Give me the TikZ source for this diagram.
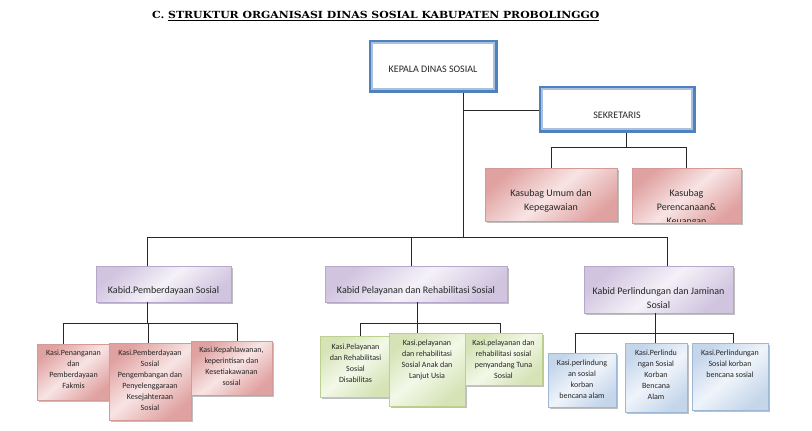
\documentclass[tikz,border=0pt]{standalone}
\usepackage{fontspec}
\setmainfont{Carlito}
\newfontfamily\titlefont{DejaVu Serif}
\usetikzlibrary{shadows,calc}
\definecolor{kblue}{HTML}{4F81BD}
\definecolor{kblueL}{HTML}{A9C0DE}
\definecolor{pinkL}{HTML}{F8E4E4}
\definecolor{pinkD}{HTML}{E0A2A1}
\definecolor{pinkB}{HTML}{D39A98}
\definecolor{purL}{HTML}{F4F1F8}
\definecolor{purD}{HTML}{D0C4DF}
\definecolor{purB}{HTML}{B7A8CB}
\definecolor{grnL}{HTML}{F3F8E8}
\definecolor{grnD}{HTML}{D5E3B6}
\definecolor{grnB}{HTML}{BCD090}
\definecolor{bluL}{HTML}{EFF4FA}
\definecolor{bluD}{HTML}{C5D6EB}
\definecolor{bluB}{HTML}{9EB7D7}
\begin{document}
\begin{tikzpicture}[x=1pt,y=-1pt,
  conn/.style={draw=black!85, line width=0.8pt},
  sbox/.style={rectangle, inner sep=0pt, line width=0.6pt,
    drop shadow={shadow xshift=1.8pt, shadow yshift=-1.8pt, fill=black!45, opacity=0.55}},
  pinkbox/.style={sbox, draw=pinkB, top color=pinkD, bottom color=pinkD, middle color=pinkL, shading angle=40},
  purbox/.style={sbox, draw=purB, top color=purD, bottom color=purD, middle color=purL, shading angle=40},
  grnbox/.style={sbox, draw=grnB, top color=grnD, bottom color=grnD, middle color=grnL, shading angle=40},
  blubox/.style={sbox, draw=bluB, top color=bluD, bottom color=bluD, middle color=bluL, shading angle=40},
  kbox/.style={rectangle, inner sep=0pt, draw=kblue, line width=3pt, fill=white},
  tten/.style={font=\fontsize{10}{14}\selectfont, align=center, inner sep=0pt, anchor=north, text=black!85},
  teight/.style={font=\fontsize{8}{11}\selectfont, align=center, inner sep=0pt, anchor=north, text=black!85}
]
\useasboundingbox[fill=white] (0,0) rectangle (812,431);

% title
\node[anchor=base west, inner sep=0pt, font=\titlefont\bfseries\fontsize{9.8}{12}\selectfont] (title) at (152,18.5)
  {\scalebox{1.11}[1]{C.\ \underline{STRUKTUR ORGANISASI DINAS SOSIAL KABUPATEN PROBOLINGGO}}};

% top boxes
\node[kbox, minimum width=126pt, minimum height=50pt] (kepala) at (433,66) {};
\draw[kblueL, line width=1.8pt] ([shift={(3.8,3.8)}]kepala.north west) rectangle ([shift={(-3.8,-3.8)}]kepala.south east);
\node[tten] (kepalat) at (433,62.2) {\strut KEPALA DINAS SOSIAL};

\node[kbox, minimum width=154pt, minimum height=44pt] (sekretaris) at (617,109) {};
\draw[kblueL, line width=1.8pt] ([shift={(3.8,3.8)}]sekretaris.north west) rectangle ([shift={(-3.8,-3.8)}]sekretaris.south east);
\node[tten] (sekretarist) at (617,108.2) {\strut SEKRETARIS};

% coordinates
\coordinate (tr0) at (463,237);
\coordinate (sj) at (463,110);
\coordinate (sb) at (626,147);
\coordinate (d1) at (147,237);
\coordinate (d2) at (411,237);
\coordinate (d3) at (667,237);
\coordinate (g1) at (147,323);
\coordinate (g1a) at (63,323);
\coordinate (g1b) at (148,323);
\coordinate (g1c) at (237,323);
\coordinate (h1) at (417,323);
\coordinate (h1a) at (360,323);
\coordinate (h1c) at (500,323);
\coordinate (k1) at (655,333);
\coordinate (k1a) at (575,333);
\coordinate (k1c) at (733,333);

% second tier boxes
\node[pinkbox, minimum width=132pt, minimum height=53pt] (kasubag1) at (551,194.5) {};
\node[tten] (kasubag1t) at (551,186.7) {\strut Kasubag Umum dan\\Kepegawaian};
\node[pinkbox, minimum width=109pt, minimum height=55pt] (kasubag2) at (686.5,195.5) {};
\begin{scope}
\clip (kasubag2.north west) rectangle ([shift={(0,-1.8)}]kasubag2.south east);
\node[tten] (kasubag2t) at (686.5,186.7) {\strut Kasubag\\Perencanaan\&\\Keuangan};
\end{scope}

\node[purbox, minimum width=135pt, minimum height=36pt] (kabid1) at (163.5,284) {};
\node[tten] (kabid1t) at (163.5,283.2) {\strut Kabid.Pemberdayaan Sosial};
\node[purbox, minimum width=182pt, minimum height=36pt] (kabid2) at (416,284) {};
\node[tten] (kabid2t) at (416,283.2) {\strut Kabid Pelayanan dan Rehabilitasi Sosial};
\node[purbox, minimum width=149pt, minimum height=47pt] (kabid3) at (658.5,289.5) {};
\node[tten] (kabid3t) at (658.5,284.2) {\strut Kabid Perlindungan dan Jaminan\\Sosial};

% connectors (upper)
\draw[conn] (kepala.south -| tr0) -- (tr0);
\draw[conn] (sj) -- (sekretaris.west |- sj);
\draw[conn] (sekretaris.south -| sb) -- (sb);
\draw[conn] (kasubag1.north) |- (kasubag2.north |- sb) -- (kasubag2.north);
\draw[conn] (d1 |- kabid1.north) -- (d1) -- (d3) -- (d3 |- kabid3.north);
\draw[conn] (d2) -- (d2 |- kabid2.north);

% group boxes
\node[pinkbox, minimum width=73pt, minimum height=56pt] (p1) at (73.5,372) {};
\node[teight] (p1t) at (73.5,347.6) {\strut Kasi.Penanganan\\dan\\Pemberdayaan\\Fakmis};
\node[pinkbox, minimum width=82pt, minimum height=77pt] (p2) at (150,381.5) {};
\node[teight] (p2t) at (150,347.6) {\strut Kasi.Pemberdayaan\\Sosial\\Pengembangan dan\\Penyelenggaraan\\Kesejahteraan\\Sosial};
\node[pinkbox, minimum width=81pt, minimum height=54pt] (p3) at (231.5,368) {};
\node[teight] (p3t) at (231.5,344.6) {\strut Kasi.Kepahlawanan,\\keperintisan dan\\Kesetiakawanan\\sosial};

\node[grnbox, minimum width=71pt, minimum height=61pt] (q1) at (355.5,366.5) {};
\node[teight] (q1t) at (355.5,341.6) {\strut Kasi.Pelayanan\\dan Rehabilitasi\\Sosial\\Disabilitas};
\node[grnbox, minimum width=76pt, minimum height=73pt] (q2) at (427,369.5) {};
\node[teight] (q2t) at (427,337.6) {\strut Kasi.pelayanan\\dan rehabilitasi\\Sosial Anak dan\\Lanjut Usia};
\node[grnbox, minimum width=77pt, minimum height=52pt] (q3) at (503.5,359) {};
\node[teight] (q3t) at (503.5,337.6) {\strut Kasi.pelayanan dan\\rehabilitasi sosial\\penyandang Tuna\\Sosial};

\node[blubox, minimum width=68pt, minimum height=54pt] (r1) at (582,380) {};
\node[teight] (r1t) at (582,357.6) {\strut Kasi.perlindung\\an sosial\\korban\\bencana alam};
\node[blubox, minimum width=62pt, minimum height=69pt] (r2) at (656,377.5) {};
\node[teight] (r2t) at (656,347.6) {\strut Kasi.Perlindu\\ngan Sosial\\Korban\\Bencana\\Alam};
\node[blubox, minimum width=76pt, minimum height=67pt] (r3) at (730,376.5) {};
\node[teight] (r3t) at (730,347.6) {\strut Kasi.Perlindungan\\Sosial korban\\bencana sosial};

% connectors (lower)
\draw[conn] (kabid1.south -| g1) -- (g1);
\draw[conn] (g1a |- p1.north) -- (g1a) -- (g1c) -- (g1c |- p3.north);
\draw[conn] (g1b) -- (g1b |- p2.north);
\draw[conn] (kabid2.south -| h1) -- (h1);
\draw[conn] (h1a |- q1.north) -- (h1a) -- (h1c) -- (h1c |- q3.north);
\draw[conn] (h1) -- (h1 |- q2.north);
\draw[conn] (kabid3.south -| k1) -- (k1);
\draw[conn] (k1a |- r1.north) -- (k1a) -- (k1c) -- (k1c |- r3.north);
\draw[conn] (k1) -- (k1 |- r2.north);
\end{tikzpicture}
\end{document}
